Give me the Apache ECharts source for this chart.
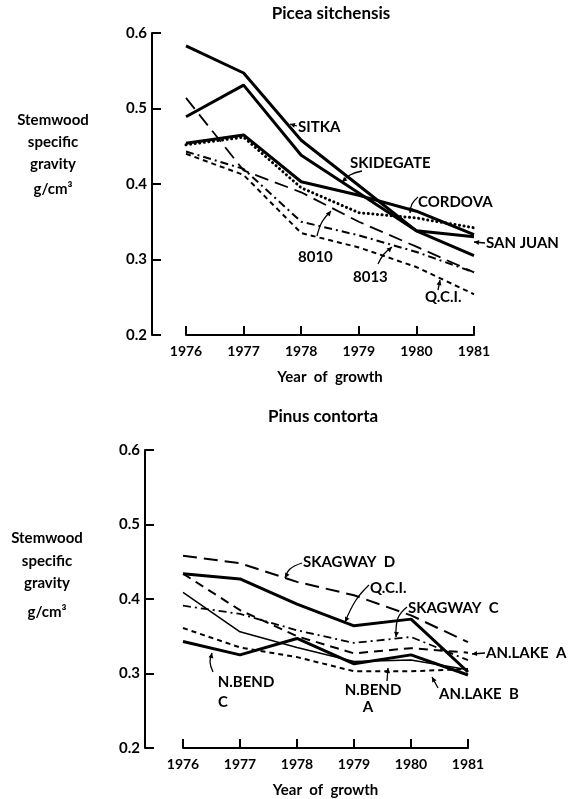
<!DOCTYPE html>
<html>
<head>
<meta charset="utf-8">
<script src="https://cdn.jsdelivr.net/npm/echarts@6/dist/echarts.min.js"></script>
<style>
html,body{margin:0;padding:0;background:#fff;}
#main{width:579px;height:799px;}
</style>
</head>
<body>
<div id="main"></div>
<script>
var years = ['1976', '1977', '1978', '1979', '1980', '1981'];

// Picea sitchensis
var sitka     = [0.583, 0.547, 0.458, 0.398, 0.338, 0.305];
var skidegate = [0.489, 0.531, 0.438, 0.388, 0.338, 0.330];
var sanJuan   = [0.454, 0.465, 0.403, 0.385, 0.364, 0.333];
var cordova   = [0.452, 0.462, 0.395, 0.362, 0.355, 0.342];
var p8010     = [0.514, 0.418, 0.389, 0.350, 0.317, 0.283];
var p8013     = [0.443, 0.420, 0.350, 0.332, 0.310, 0.283];
var piceaQci  = [0.440, 0.412, 0.335, 0.316, 0.290, 0.254];

// Pinus contorta
var skagwayD  = [0.458, 0.448, 0.423, 0.405, 0.378, 0.342];
var pinusQci  = [0.434, 0.427, 0.393, 0.364, 0.373, 0.302];
var skagwayC  = [0.391, 0.380, 0.358, 0.341, 0.349, 0.318];
var anLakeA   = [0.434, 0.385, 0.350, 0.327, 0.334, 0.328];
var nBendA    = [0.409, 0.356, 0.335, 0.316, 0.318, 0.305];
var anLakeB   = [0.361, 0.335, 0.322, 0.303, 0.303, 0.306];
var nBendC    = [0.343, 0.325, 0.347, 0.313, 0.325, 0.298];

var FONT = 'Lato, "DejaVu Sans", sans-serif';

// line styles
var SOLID = 'solid', DOT = [0.1, 4.5], LONG = [14, 7], DASHDOT = [8, 4, 2, 4], SHORT = [5, 4], MED = [9, 6];

function line(name, data, idx, width, type) {
    return {
        name: name,
        type: 'line',
        xAxisIndex: idx,
        yAxisIndex: idx,
        data: data,
        symbol: 'none',
        silent: true,
        lineStyle: {color: '#000', width: width, type: type, cap: type === DOT ? 'round' : 'butt'}
    };
}

function yAx(idx, off) {
    return {
        type: 'value', gridIndex: idx, min: 0.2, max: 0.6, interval: 0.1, offset: off,
        axisLine: {show: true, lineStyle: {color: '#000', width: 2}},
        axisTick: {show: true, inside: true, length: 9, lineStyle: {color: '#000', width: 2}},
        axisLabel: {color: '#000', fontSize: 15, fontWeight: 'bold', fontFamily: FONT, margin: 5,
            formatter: function (v) { return v.toFixed(1); }},
        splitLine: {show: false}
    };
}

function xAx(idx) {
    return {
        type: 'category', gridIndex: idx, data: years, boundaryGap: false,
        axisLine: {lineStyle: {color: '#000', width: 2}},
        axisTick: {inside: true, length: 9, lineStyle: {color: '#000', width: 2}},
        axisLabel: {color: '#000', fontSize: 14, fontWeight: 'bold', fontFamily: FONT, margin: 9, interval: 0},
        name: 'Year  of  growth', nameLocation: 'middle', nameGap: 35,
        nameTextStyle: {color: '#000', fontSize: 15, fontWeight: 'bold', fontFamily: FONT}
    };
}

function txt(s, x, y, size, align) {
    return {type: 'text', x: x, y: y, silent: true,
        style: {text: s, fill: '#000', font: 'bold ' + (size || 15) + 'px ' + FONT,
            align: align || 'left', verticalAlign: 'middle'}};
}

// leader with arrow head at the last point
function arrow(pts) {
    var a = pts[pts.length - 2], b = pts[pts.length - 1];
    var dx = b[0] - a[0], dy = b[1] - a[1], l = Math.sqrt(dx * dx + dy * dy);
    dx /= l; dy /= l;
    var h = 5, w = 2.5;
    var head = [b, [b[0] - dx * h - dy * w, b[1] - dy * h + dx * w], [b[0] - dx * h + dy * w, b[1] - dy * h - dx * w]];
    return [
        {type: 'polyline', silent: true, shape: {points: pts, smooth: pts.length > 2 ? 0.4 : 0},
            style: {stroke: '#000', lineWidth: 1.3, fill: null}},
        {type: 'polygon', silent: true, shape: {points: head}, style: {fill: '#000'}}
    ];
}

var gfx = [
    txt('Picea sitchensis', 331, 14, 17, 'center'),
    txt('Stemwood', 53, 120, 15, 'center'),
    txt('specific', 53, 142, 15, 'center'),
    txt('gravity', 53, 164, 15, 'center'),
    txt('g/cm\u00b3', 53, 189, 15, 'center'),
    txt('SITKA', 298, 127),
    txt('SKIDEGATE', 350, 163),
    txt('CORDOVA', 418, 202),
    txt('SAN JUAN', 486, 243),
    txt('8010', 298, 257),
    txt('8013', 353, 277),
    txt('Q.C.I.', 425, 297),

    txt('Pinus contorta', 323, 417, 17, 'center'),
    txt('Stemwood', 47, 538, 15, 'center'),
    txt('specific', 47, 561, 15, 'center'),
    txt('gravity', 47, 583, 15, 'center'),
    txt('g/cm\u00b3', 47, 612, 15, 'center'),
    txt('SKAGWAY  D', 303, 562),
    txt('Q.C.I.', 370, 588),
    txt('SKAGWAY  C', 408, 608),
    txt('AN.LAKE  A', 486, 653),
    txt('N.BEND', 246, 682, 15, 'center'),
    txt('C', 223, 702, 15, 'center'),
    txt('N.BEND', 373, 690, 15, 'center'),
    txt('A', 368, 707, 15, 'center'),
    txt('AN.LAKE  B', 439, 694)
];

gfx = gfx.concat(
    arrow([[297, 126], [290, 124]]),
    arrow([[362, 171], [350, 175], [342, 182]]),
    arrow([[418, 197], [412, 204], [410, 213]]),
    arrow([[485, 243], [474, 242]]),
    arrow([[317, 236], [322, 222], [331, 211]]),
    arrow([[378, 264], [384, 254], [392, 247]]),
    arrow([[438, 290], [440, 280]]),
    arrow([[302, 563], [290, 569], [285, 578]]),
    arrow([[369, 585], [356, 600], [345, 622]]),
    arrow([[407, 607], [398, 618], [396, 637]]),
    arrow([[485, 653], [472, 654]]),
    arrow([[213, 672], [210, 662], [212, 653]]),
    arrow([[387, 681], [388, 668]]),
    arrow([[438, 688], [432, 677]])
);

var myChart = echarts.init(document.getElementById('main'));
var option = {
    backgroundColor: '#fff',
    animation: false,
    grid: [
        {left: 186, top: 33, width: 288, height: 302},
        {left: 183, top: 450, width: 285, height: 303}
    ],
    xAxis: [xAx(0), xAx(1)],
    yAxis: [yAx(0, 34), yAx(1, 38)],
    series: [
        line('SITKA', sitka, 0, 3, SOLID),
        line('SKIDEGATE', skidegate, 0, 3, SOLID),
        line('SAN JUAN', sanJuan, 0, 3, SOLID),
        line('CORDOVA', cordova, 0, 3, DOT),
        line('8010', p8010, 0, 1.8, LONG),
        line('8013', p8013, 0, 2, DASHDOT),
        line('Q.C.I.', piceaQci, 0, 2, SHORT),

        line('SKAGWAY D', skagwayD, 1, 2, LONG),
        line('Q.C.I.', pinusQci, 1, 3, SOLID),
        line('SKAGWAY C', skagwayC, 1, 1.8, DASHDOT),
        line('AN.LAKE A', anLakeA, 1, 2, MED),
        line('N.BEND A', nBendA, 1, 1.5, SOLID),
        line('AN.LAKE B', anLakeB, 1, 2, SHORT),
        line('N.BEND C', nBendC, 1, 3, SOLID)
    ],
    graphic: gfx
};
myChart.setOption(option);
</script>
</body>
</html>
